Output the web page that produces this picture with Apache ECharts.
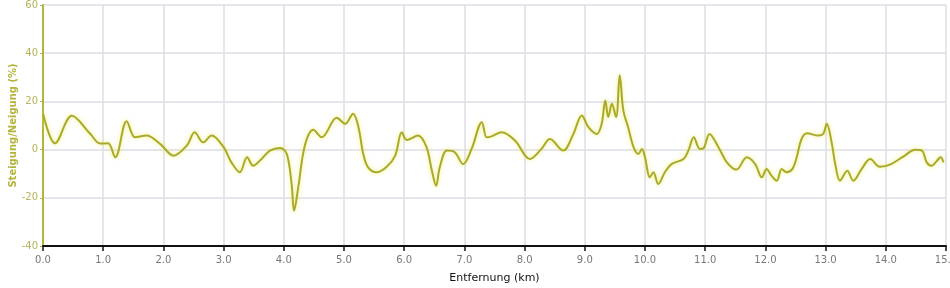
<!DOCTYPE html>
<html>
<head>
<meta charset="utf-8">
<script src="https://cdn.jsdelivr.net/npm/echarts@6/dist/echarts.min.js"></script>
<style>html,body{margin:0;padding:0;background:#fff;}#c{width:950px;height:288px;}</style>
</head>
<body>
<div id="c"></div>
<script>
const distanceKm = [0.0,0.2,0.48,0.78,0.95,1.08,1.2,1.39,1.53,1.72,1.94,2.17,2.39,2.52,2.66,2.80,3.0,3.13,3.27,3.39,3.49,3.63,3.77,3.94,4.05,4.13,4.17,4.24,4.35,4.49,4.63,4.88,5.02,5.15,5.24,5.32,5.40,5.54,5.71,5.85,5.96,6.04,6.23,6.37,6.46,6.53,6.59,6.71,6.84,6.98,7.12,7.29,7.37,7.45,7.62,7.84,8.09,8.28,8.42,8.64,8.81,8.95,9.06,9.20,9.28,9.34,9.39,9.45,9.52,9.58,9.64,9.72,9.81,9.89,9.95,10.0,10.08,10.14,10.22,10.33,10.44,10.64,10.72,10.81,10.91,10.97,11.07,11.22,11.36,11.52,11.69,11.83,11.94,12.02,12.10,12.19,12.27,12.35,12.45,12.52,12.60,12.69,12.88,12.96,13.02,13.10,13.16,13.24,13.36,13.46,13.60,13.74,13.90,14.07,14.29,14.49,14.60,14.68,14.76,14.85,14.91,14.96];
const gradePct = [15,2.6,14,6.7,2.5,2.6,-3.2,11.8,5.1,5.8,2.5,-2.5,1.7,7.2,3.0,5.8,1,-5.3,-9.4,-3.2,-6.7,-3.9,-0.4,0.7,-1.8,-14.3,-25.4,-15.7,1.7,8.2,5.1,13.2,10.7,14.9,9.3,-1.8,-7.4,-9.4,-7.1,-2.5,7.2,4,5.8,1,-8.8,-15,-7.4,-0.4,-1.1,-6,0.3,11.4,5.1,5.5,7.2,3.75,-3.9,0.3,4.4,-0.4,6.5,14.2,9.3,6.5,10.7,20.4,13.5,19,13.5,30.8,16.25,9.3,1,-1.8,0.3,-3.2,-11.5,-9.4,-14.3,-9.4,-6,-3.9,-0.4,5.1,0.3,0.5,6.5,1,-5.3,-8.3,-3.2,-6,-11.5,-8,-10.8,-12.9,-8,-9.4,-8,-3.2,4.4,6.8,5.8,6.5,10.7,3,-6,-12.9,-8.8,-12.9,-8,-3.9,-7.1,-6.25,-2.9,-0.1,-0.4,-5.3,-6.7,-4.6,-3.2,-5.3];
const yTicks = [-40,-20,0,20,40,60];
const xTitle = 'Entfernung (km)';
const yTitle = 'Steigung/Neigung (%)';

const points = distanceKm.map((d,i)=>[d, gradePct[i]]);
const chart = echarts.init(document.getElementById('c'));
chart.setOption({
  animation:false,
  backgroundColor:'#ffffff',
  grid:{left:43,right:4,top:5,bottom:42,containLabel:false,outerBoundsMode:'none'},
  xAxis:{
    type:'value',min:0,max:15,interval:1,
    name:xTitle,nameLocation:'middle',nameGap:27,nameMoveOverlap:false,
    nameTextStyle:{color:'#111',fontSize:11,fontFamily:'DejaVu Sans'},
    axisLine:{show:true,onZero:false,lineStyle:{color:'#111',width:2}},
    axisTick:{show:true,length:5,lineStyle:{color:'#111',width:1.5}},
    axisLabel:{color:'#777',fontSize:10,fontFamily:'DejaVu Sans',margin:9,formatter:v=>v.toFixed(1)},
    splitLine:{show:true,lineStyle:{color:'#dcdce6',width:1.5}}
  },
  yAxis:{
    type:'value',min:yTicks[0],max:yTicks[yTicks.length-1],interval:20,
    name:yTitle,nameLocation:'middle',nameGap:25,nameRotate:90,nameMoveOverlap:false,
    nameTextStyle:{color:'#b4b43c',fontSize:10,fontWeight:'bold',fontFamily:'DejaVu Sans'},
    axisLine:{show:true,lineStyle:{color:'#b4b43c',width:2}},
    axisTick:{show:true,length:3,inside:false,lineStyle:{color:'#b4b43c'}},
    axisLabel:{color:'#b4b45a',fontSize:10,fontFamily:'DejaVu Sans',margin:5},
    splitLine:{show:true,lineStyle:{color:'#dcdce6',width:1.5}}
  },
  series:[{
    type:'line',data:points,smooth:0.35,symbol:'none',
    lineStyle:{color:'#aaaa2a',width:2,shadowColor:'rgba(235,235,90,0.8)',shadowBlur:4}
  }]
});
</script>
</body>
</html>
